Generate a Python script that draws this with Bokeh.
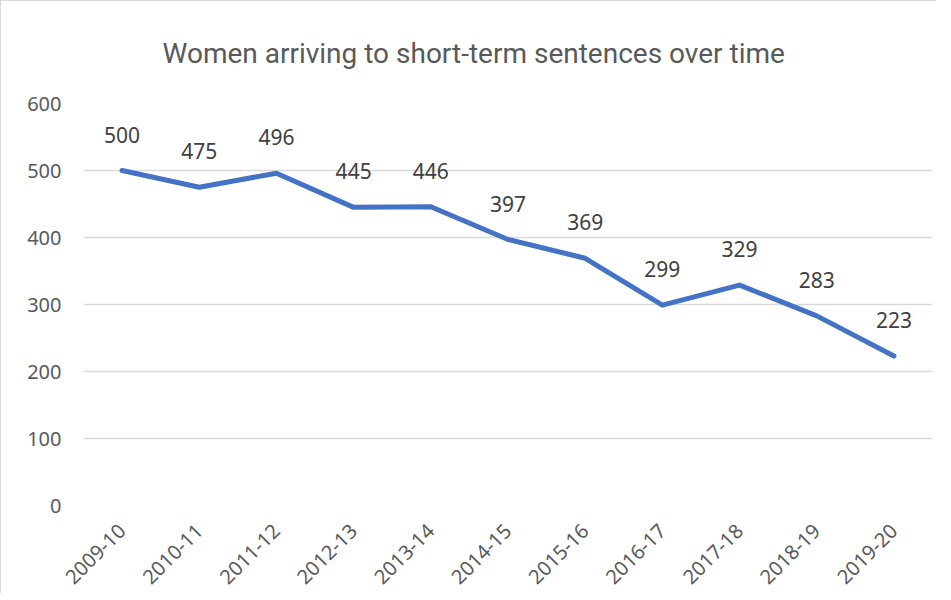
from bokeh.plotting import figure
from bokeh.models import ColumnDataSource, FactorRange, FixedTicker
from bokeh.core.properties import value
from bokeh.embed import file_html
from bokeh.resources import INLINE
import math

years = ["2009-10", "2010-11", "2011-12", "2012-13", "2013-14", "2014-15",
         "2015-16", "2016-17", "2017-18", "2018-19", "2019-20"]
women = [500, 475, 496, 445, 446, 397, 369, 299, 329, 283, 223]
y_ticks = [0, 100, 200, 300, 400, 500, 600]
title_text = "Women arriving to short-term sentences over time"

src = ColumnDataSource(dict(x=years, y=women, lab=[str(v) for v in women]))

p = figure(frame_width=849, frame_height=402,
           x_range=FactorRange(*years, range_padding=0),
           y_range=(0, 600), output_backend="svg", toolbar_location=None,
           min_border_left=82, min_border_right=4, min_border_top=97,
           min_border_bottom=84)
p.styles = {"border-left": "1px solid #d9d9d9", "border-top": "1px solid #d9d9d9"}

p.title.text = title_text
p.title.align = "left"
p.title.offset = 79
p.title.text_font = "Roboto"
p.title.text_font_style = "normal"
p.title.text_font_size = "28px"
p.title.text_color = "#595959"
p.title.standoff = 67

p.line("x", "y", source=src, line_color="#4472C4", line_width=5,
       line_cap="round", line_join="round")
p.text("x", "y", text="lab", source=src, text_align="center",
       text_baseline="bottom", y_offset=-28, text_font=value("Noto Sans"),
       text_font_size="21px", text_color="#404040")

p.outline_line_color = None
p.background_fill_color = "white"
p.xgrid.grid_line_color = None
p.ygrid.grid_line_color = "#d9d9d9"
p.ygrid.grid_line_width = 1.5
p.yaxis.ticker = FixedTicker(ticks=y_ticks)

for ax in (p.xaxis[0], p.yaxis[0]):
    ax.axis_line_color = None
    ax.major_tick_line_color = None
    ax.minor_tick_line_color = None
    ax.major_label_text_font = "Noto Sans"
    ax.major_label_text_color = "#595959"

p.yaxis.major_label_text_font_size = "20px"
p.yaxis.major_label_standoff = 16
p.xaxis.major_label_text_font_size = "20px"
p.xaxis.major_label_orientation = math.pi / 4
p.xaxis.major_label_standoff = 16

open("out.html", "w").write(file_html(p, INLINE))
